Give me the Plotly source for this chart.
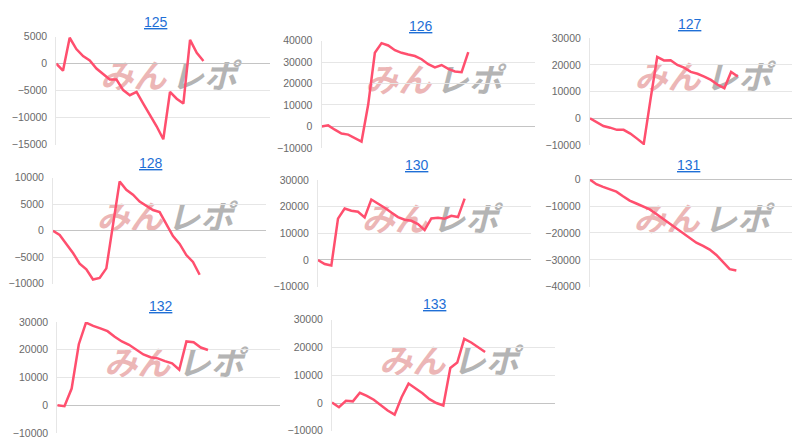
import plotly.graph_objects as go

# ── data ────────────────────────────────────────────────────────────────
MACHINES = ["125", "126", "127", "128", "130", "131", "132", "133"]

M125 = [0, -1300, 4800, 2700, 1400, 600, -900, -1900, -2950, -2950, -4900, -5850,
        -5250, -7400, -9450, -11600, -14000, -5250, -6500, -7400, 4400, 2000, 500]
M126 = [0, 500, -1500, -3300, -3800, -5600, -7000, 10200, 34300, 38800, 37700,
        35500, 34300, 33500, 32800, 31300, 29000, 27500, 28600, 26800, 25600, 25300, 34600]
M127 = [0, -1300, -2900, -3500, -4300, -4300, -5700, -7600, -9600, 7000, 23000,
        21700, 21800, 20000, 19000, 17400, 16700, 15600, 14400, 12600, 11300, 17400, 15700]
M128 = [0, -800, -2500, -4200, -6200, -7300, -9200, -8900, -7100, 1200, 9300,
        7700, 6800, 5500, 4700, 3900, 3500, 1200, -1000, -2500, -4600, -5900, -8300]
M130 = [0, -1500, -2100, 15500, 19300, 18500, 18100, 16000, 22700, 21200, 19600,
        17800, 16100, 15100, 14700, 13500, 11200, 15600, 15800, 15500, 16600, 16100, 23000]
M131 = [0, -1800, -2800, -3700, -4600, -6300, -7900, -9000, -10200, -11200, -12900,
        -14700, -16400, -18200, -20200, -22100, -23600, -24800, -26200, -28200,
        -31000, -33500, -34000]
M132 = [0, -350, 6000, 22000, 29800, 28600, 27700, 26700, 24700, 23000, 21800,
        20000, 18300, 17300, 16900, 15900, 15100, 12800, 23000, 22700, 20800, 19900]
M133 = [200, -1500, 800, 600, 3700, 2600, 1200, -900, -2700, -4200, 2100, 7000,
        5300, 3500, 1400, 0, -900, 12600, 14600, 23100, 21800, 20200, 18400]

SERIES = [M125, M126, M127, M128, M130, M131, M132, M133]

Y_RANGES = [(-15000, 5000), (-10000, 40000), (-10000, 30000), (-10000, 10000),
            (-10000, 30000), (-40000, 0), (-10000, 30000), (-10000, 30000)]
Y_STEPS = [5000, 10000, 10000, 5000, 10000, 10000, 10000, 10000]
X_SLOTS = [32, 32, 32, 32, 32, 32, 31, 32]

# ── layout in pixels (left, right, top, bottom) and title centre ────────
W, H = 800, 439
PLOT_BOX = [
    (48.3, 262.3, 23.3, 134.3),
    (313.5, 527.0, 27.3, 137.7),
    (582.0, 797.0, 25.0, 134.7),
    (45.0, 258.3, 168.3, 277.3),
    (310.0, 523.3, 170.7, 280.3),
    (581.7, 795.0, 170.0, 280.3),
    (49.3, 271.7, 316.7, 430.7),
    (324.0, 546.7, 314.3, 428.5),
]
TITLE_POS = [(147.7, 8.5), (412.7, 12.3), (681.7, 10.0), (143.3, 152.7),
             (409.3, 155.0), (680.7, 155.0), (152.7, 300.7), (427.3, 298.3)]

LINE = "#ff4f6e"
LINK = "#1f6fd6"
LABEL = "#6a6a6a"
GRID = "#e6e6e6"
ZERO = "#c4c4c4"
FONT = "Arial, 'Liberation Sans', sans-serif"
MARK_FONT = "'Noto Sans CJK JP', sans-serif"

fig = go.Figure()
layout = dict(
    width=W, height=H,
    paper_bgcolor="white", plot_bgcolor="white",
    margin=dict(l=0, r=0, t=0, b=0),
    showlegend=False,
    separators=".,",
    font=dict(family=FONT, color=LABEL, size=10),
)
annotations = []
shapes = []

for i, name in enumerate(MACHINES):
    n = "" if i == 0 else str(i + 1)
    left, right, top, bottom = PLOT_BOX[i]
    vals = SERIES[i]

    fig.add_trace(go.Scatter(
        x=list(range(len(vals))), y=vals, mode="lines",
        line=dict(color=LINE, width=2.5),
        xaxis="x" + n, yaxis="y" + n,
        hovertemplate=f"{name}: %{{y:,}}<extra></extra>",
    ))

    layout["xaxis" + n] = dict(
        domain=[left / W, right / W], range=[0, X_SLOTS[i]],
        showgrid=False, zeroline=False, showticklabels=False,
        showline=False, anchor="y" + n, fixedrange=True,
    )
    layout["yaxis" + n] = dict(
        domain=[1 - bottom / H, 1 - top / H], range=list(Y_RANGES[i]),
        dtick=Y_STEPS[i], tick0=0, tickformat="d", anchor="x" + n,
        gridcolor=GRID, gridwidth=1,
        zeroline=True, zerolinecolor=ZERO, zerolinewidth=1,
        showline=True, linecolor=GRID, linewidth=1,
        tickfont=dict(family=FONT, size=10.5, color=LABEL),
        ticklabelstandoff=6, fixedrange=True,
    )

    tx, ty = TITLE_POS[i]
    annotations.append(dict(
        text=f"<u>{name}</u>", x=tx / W, y=1 - ty / H,
        xref="paper", yref="paper", xanchor="center", yanchor="middle",
        showarrow=False, font=dict(family=FONT, size=14, color=LINK),
    ))

    # watermark, kept under the line
    for txt, color, x0, x1 in [("みん", "#ecb6b6", 0.21, 0.51),
                               ("レポ", "#b4b4b4", 0.54, 0.84)]:
        shapes.append(dict(
            type="rect", xref=f"x{n} domain", yref=f"y{n} domain",
            x0=x0, x1=x1, y0=0.50, y1=0.71,
            line=dict(width=0), fillcolor="rgba(0,0,0,0)", layer="below",
            label=dict(text=f"<b>{txt}</b>", textposition="middle center",
                       font=dict(family=MARK_FONT, size=33, color=color,
                                 style="italic")),
        ))

layout["annotations"] = annotations
layout["shapes"] = shapes
fig.update_layout(**layout)

fig.write_html("out.html")
